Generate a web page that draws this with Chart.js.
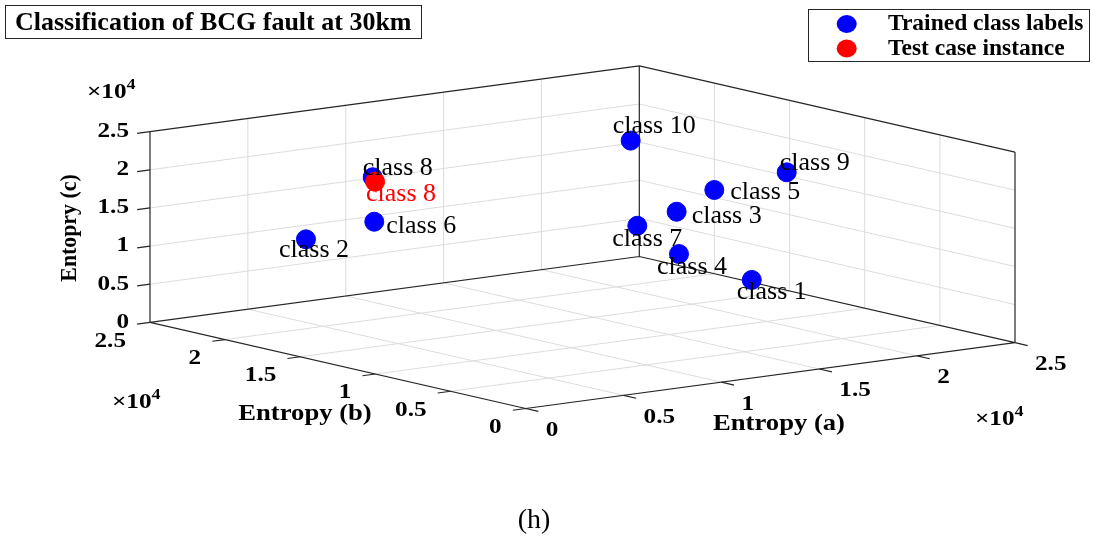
<!DOCTYPE html>
<html>
<head>
<meta charset="utf-8">
<script src="https://cdn.jsdelivr.net/npm/chart.js@4.4.1/dist/chart.umd.min.js"></script>
<style>
    body { margin: 0; background: #fff; }
    #wrap { width: 1093px; height: 537px; }
</style>
</head>
<body>
<div id="wrap"><canvas id="bcgChart" width="1093" height="537"></canvas></div>
<script>
// trained class centres (entropy values of phase a, b, c)
const classNames = ['class 1', 'class 2', 'class 3', 'class 4', 'class 5', 'class 6', 'class 7', 'class 8', 'class 9', 'class 10'];
const entropyA = [15390, 4130, 16350, 14550, 19235, 5700, 11460, 6580, 21015, 18800];
const entropyB = [5000, 20000, 11250, 8750, 12500, 17500, 7500, 18750, 10000, 17500];
const entropyC = [9290, 11720, 15080, 11280, 16370, 14620, 16620, 19580, 19200, 20730];

// test case
const testName = 'class 8';
const testA = [6700];
const testB = [18750];
const testC = [18960];

// axis ticks (x10^4)
const tickValues = [0, 0.5, 1, 1.5, 2, 2.5];
const tickLabels = ['0', '0.5', '1', '1.5', '2', '2.5'];
const axisMax = 25000;

// view: where the box sits on the page (orthographic projection)
const origin = { x: 525.7, y: 408.5 };
const vecA = { x: 489.3, y: -65.8 };
const vecB = { x: -375.7, y: -86.2 };
const vecC = { x: 0, y: -190.6 };

function proj(a, b, c) {
    const u = a / axisMax, v = b / axisMax, w = c / axisMax;
    return {
        x: origin.x + u * vecA.x + v * vecB.x + w * vecC.x,
        y: origin.y + u * vecA.y + v * vecB.y + w * vecC.y,
    };
}

// label offsets from the marker (pixels)
const labelShift = [[-15, 12], [-27, 11], [15, 4], [-22, 13], [16, 2], [12, 4], [-25, 13], [-10, -9], [-7, -9], [-18, -14]];
const testShift = [-9, 13];

const M = axisMax;
const gridSeg = [];
const boxSeg = [];
const tickSeg = [];

function addSeg(list, p, q) {
    list.push(p, q, { x: null, y: null });
}

// grid on the back walls and floor
tickValues.slice(1, -1).forEach((t) => {
    const v = t * 1e4;
    addSeg(gridSeg, proj(v, M, 0), proj(v, M, M));   // left wall, vertical
    addSeg(gridSeg, proj(0, M, v), proj(M, M, v));   // left wall, horizontal
    addSeg(gridSeg, proj(M, v, 0), proj(M, v, M));   // right wall, vertical
    addSeg(gridSeg, proj(M, 0, v), proj(M, M, v));   // right wall, horizontal
    addSeg(gridSeg, proj(v, 0, 0), proj(v, M, 0));   // floor
    addSeg(gridSeg, proj(0, v, 0), proj(M, v, 0));   // floor
});

// back box edges + axes
addSeg(boxSeg, proj(0, M, 0), proj(0, M, M));
addSeg(boxSeg, proj(M, M, 0), proj(M, M, M));
addSeg(boxSeg, proj(M, 0, 0), proj(M, 0, M));
addSeg(boxSeg, proj(0, M, M), proj(M, M, M));
addSeg(boxSeg, proj(M, M, M), proj(M, 0, M));
addSeg(boxSeg, proj(0, M, 0), proj(M, M, 0));
addSeg(boxSeg, proj(M, M, 0), proj(M, 0, 0));
addSeg(boxSeg, proj(0, M, 0), proj(0, 0, 0));
addSeg(boxSeg, proj(0, 0, 0), proj(M, 0, 0));

// tick marks
const tickLen = 13;
const lenA = Math.hypot(vecA.x, vecA.y), lenB = Math.hypot(vecB.x, vecB.y);
const outA = { x: -vecA.x / lenA * tickLen, y: -vecA.y / lenA * tickLen };
const outB = { x: -vecB.x / lenB * tickLen, y: -vecB.y / lenB * tickLen };
tickValues.forEach((t) => {
    const v = t * 1e4;
    const pc = proj(0, M, v);
    addSeg(tickSeg, pc, { x: pc.x + outA.x, y: pc.y + outA.y });
    const pb = proj(0, v, 0);
    addSeg(tickSeg, pb, { x: pb.x + outA.x, y: pb.y + outA.y });
    const pa = proj(v, 0, 0);
    addSeg(tickSeg, pa, { x: pa.x + outB.x, y: pa.y + outB.y });
});

const trainedPts = classNames.map((n, i) => proj(entropyA[i], entropyB[i], entropyC[i]));
const testPts = testA.map((a, i) => proj(a, testB[i], testC[i]));

function drawText(ctx, s, x, y, font, opts = {}) {
    ctx.save();
    ctx.font = font;
    ctx.fillStyle = opts.color || '#000';
    ctx.textBaseline = 'middle';
    ctx.textAlign = opts.align || 'left';
    ctx.translate(x, y);
    if (opts.rotate) ctx.rotate(opts.rotate);
    if (opts.sx) ctx.scale(opts.sx, 1);
    ctx.fillText(s, 0, 0);
    ctx.restore();
}

const SERIF = '"Liberation Serif", "Times New Roman", serif';
const STRETCH = 1.2;

function drawExp(ctx, x, y) {
    const f = 'bold 21px ' + SERIF;
    ctx.save();
    ctx.font = f;
    const w = ctx.measureText('\u00d710').width * STRETCH;
    ctx.restore();
    drawText(ctx, '\u00d710', x, y, f, { sx: STRETCH });
    drawText(ctx, '4', x + w, y - 8, 'bold 15px ' + SERIF, { sx: STRETCH });
}

const decorPlugin = {
    id: 'decor',
    afterDatasetsDraw(chart) {
        const ctx = chart.ctx;
        const sx = chart.scales.x, sy = chart.scales.y;
        const px = (p) => ({ x: sx.getPixelForValue(p.x), y: sy.getPixelForValue(p.y) });

        // class labels
        trainedPts.forEach((p, i) => {
            const q = px(p);
            drawText(ctx, classNames[i], q.x + labelShift[i][0], q.y + labelShift[i][1], '26px ' + SERIF);
        });
        testPts.forEach((p) => {
            const q = px(p);
            drawText(ctx, testName, q.x + testShift[0], q.y + testShift[1], '26px ' + SERIF, { color: '#ff0000' });
        });

        // tick labels
        const tf = 'bold 21px ' + SERIF;
        tickValues.forEach((t, i) => {
            const v = t * 1e4;
            const pc = px(proj(0, M, v));
            drawText(ctx, tickLabels[i], pc.x - 21, pc.y, tf, { align: 'right', sx: STRETCH });
            const pb = px(proj(0, v, 0));
            drawText(ctx, tickLabels[i], pb.x - 24, pb.y + 19, tf, { align: 'right', sx: STRETCH });
            const pa = px(proj(v, 0, 0));
            drawText(ctx, tickLabels[i], pa.x + 20, pa.y + 22, tf, { align: 'left', sx: STRETCH });
        });

        // exponents
        drawExp(ctx, 87, 93);
        drawExp(ctx, 112, 403);
        drawExp(ctx, 975, 420);

        // axis titles
        const af = 'bold 24px ' + SERIF;
        drawText(ctx, 'Entopry (c)', 70, 228, af, { align: 'center', rotate: -Math.PI / 2, sx: 0.91 });
        drawText(ctx, 'Entropy (b)', 305, 414, af, { align: 'center', sx: 1.11 });
        drawText(ctx, 'Entropy (a)', 779, 424, af, { align: 'center', sx: 1.11 });

        // title box
        ctx.save();
        ctx.strokeStyle = '#262626';
        ctx.lineWidth = 1;
        ctx.strokeRect(5.5, 5.5, 416, 33);
        ctx.restore();
        drawText(ctx, 'Classification of BCG fault at 30km', 15, 23, 'bold 26px ' + SERIF);

        // legend box
        ctx.save();
        ctx.strokeStyle = '#262626';
        ctx.lineWidth = 1;
        ctx.strokeRect(808.5, 9.5, 281, 52);
        ctx.fillStyle = '#0000ff';
        ctx.beginPath();
        ctx.ellipse(846.7, 24, 10, 9, 0, 0, Math.PI * 2);
        ctx.fill();
        ctx.fillStyle = '#ff0000';
        ctx.beginPath();
        ctx.ellipse(846.7, 48.5, 10, 9, 0, 0, Math.PI * 2);
        ctx.fill();
        ctx.restore();
        drawText(ctx, 'Trained class labels', 888, 24, 'bold 23.5px ' + SERIF);
        drawText(ctx, 'Test case instance', 888, 48.5, 'bold 23.5px ' + SERIF);

        // caption
        drawText(ctx, '(h)', 534, 521, '28px ' + SERIF, { align: 'center' });
    },
};

const ctx = document.getElementById('bcgChart').getContext('2d');
const chart = new Chart(ctx, {
    type: 'scatter',
    data: {
        datasets: [
            {
                label: 'Test case instance',
                data: testPts,
                backgroundColor: '#ff0000',
                borderColor: '#ff0000',
                pointRadius: 9.5,
                pointHoverRadius: 9.5,
                order: 0,
            },
            {
                label: 'Trained class labels',
                data: trainedPts,
                backgroundColor: '#0000ff',
                borderColor: '#0000ff',
                pointRadius: 9.5,
                pointHoverRadius: 9.5,
                order: 1,
            },
            {
                label: 'box',
                data: boxSeg,
                showLine: true,
                spanGaps: false,
                borderColor: '#262626',
                borderWidth: 1.2,
                pointRadius: 0,
                order: 2,
            },
            {
                label: 'ticks',
                data: tickSeg,
                showLine: true,
                spanGaps: false,
                borderColor: '#262626',
                borderWidth: 1.2,
                pointRadius: 0,
                order: 2,
            },
            {
                label: 'grid',
                data: gridSeg,
                showLine: true,
                spanGaps: false,
                borderColor: '#dcdcdc',
                borderWidth: 1,
                pointRadius: 0,
                order: 3,
            },
        ],
    },
    options: {
        responsive: false,
        animation: false,
        events: [],
        layout: { padding: 0, autoPadding: false },
        plugins: {
            legend: { display: false },
            title: { display: false },
            tooltip: { enabled: false },
        },
        scales: {
            x: { type: 'linear', min: 0, max: 1093, display: false },
            y: { type: 'linear', min: 0, max: 537, reverse: true, display: false },
        },
    },
    plugins: [decorPlugin],
});
</script>
</body>
</html>
